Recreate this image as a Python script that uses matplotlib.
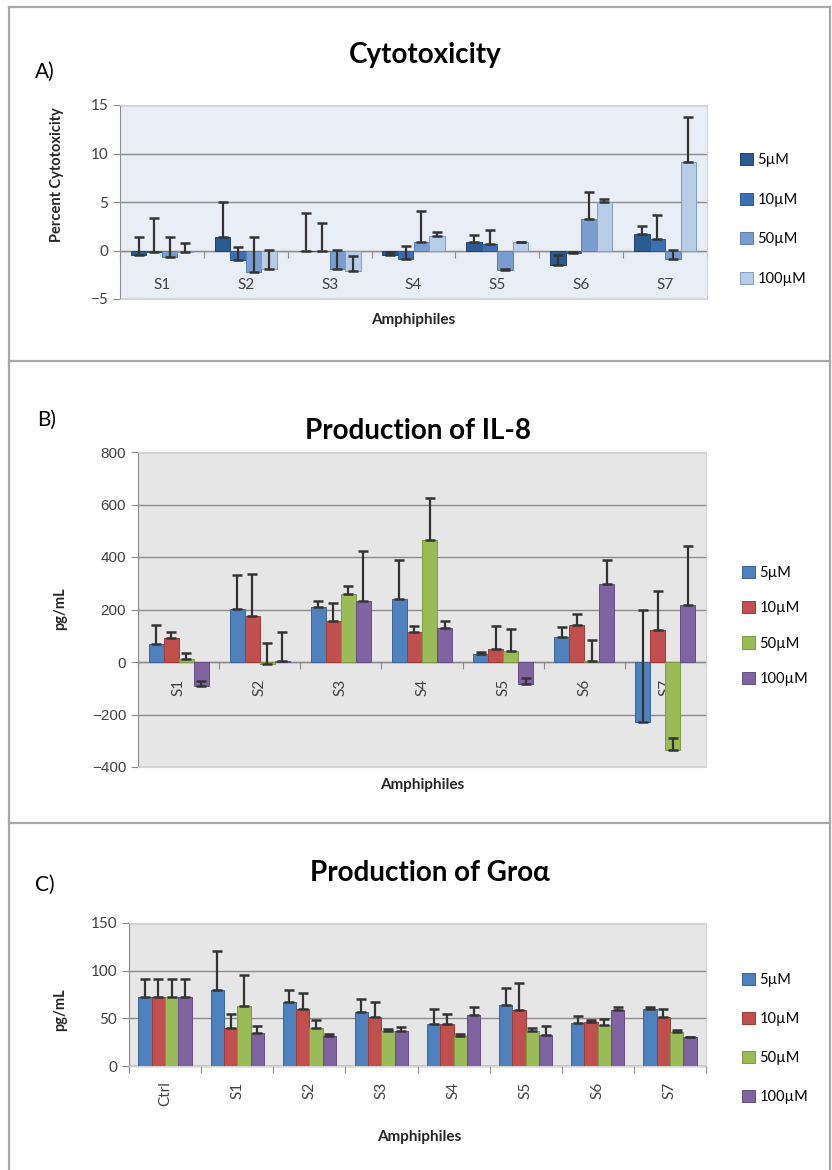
import matplotlib
matplotlib.use("Agg")
import matplotlib.pyplot as plt
from matplotlib.lines import Line2D
import numpy as np

plt.rcParams.update({"font.family": ["Lato", "DejaVu Sans"]})

W, H = 832, 1170
CONC = ["5µM", "10µM", "50µM", "100µM"]

# --- A) cytotoxicity (%)
cyto_groups = ["S1", "S2", "S3", "S4", "S5", "S6", "S7"]
cyto_5 = [-0.5, 1.35, -0.05, -0.5, 0.9, -1.5, 1.7]
cyto_10 = [-0.2, -1.0, -0.05, -0.85, 0.7, -0.3, 1.2]
cyto_50 = [-0.7, -2.2, -1.9, 0.9, -2.05, 3.2, -0.85]
cyto_100 = [-0.2, -1.9, -2.1, 1.45, 0.9, 5.0, 9.1]
cyto_5_err = [1.85, 3.7, 3.9, 0.3, 0.7, 1.0, 0.85]
cyto_10_err = [3.6, 1.35, 2.85, 1.35, 1.4, 0.15, 2.5]
cyto_50_err = [2.05, 3.55, 1.95, 3.2, 0.15, 2.85, 0.9]
cyto_100_err = [1.0, 1.95, 1.55, 0.5, 0.0, 0.35, 4.7]

# --- B) IL-8 (pg/mL)
il8_groups = ["S1", "S2", "S3", "S4", "S5", "S6", "S7"]
il8_5 = [68, 202, 210, 240, 30, 94, -229]
il8_10 = [91, 174, 155, 113, 50, 141, 123]
il8_50 = [11, -8, 260, 463, 41, 2, -334]
il8_100 = [-90, 3, 234, 130, -83, 298, 216]
il8_5_err = [74, 128, 21, 150, 8, 39, 426]
il8_10_err = [23, 162, 70, 23, 86, 42, 146]
il8_50_err = [23, 80, 31, 162, 86, 81, 44]
il8_100_err = [16, 110, 188, 25, 22, 92, 227]

# --- C) Gro-alpha (pg/mL)
gro_groups = ["Ctrl", "S1", "S2", "S3", "S4", "S5", "S6", "S7"]
gro_5 = [72, 80, 67, 57, 44, 64, 45.5, 60]
gro_10 = [72, 40, 60, 51, 44, 59, 46, 51]
gro_50 = [72, 63, 40, 37, 31.5, 37, 43, 36]
gro_100 = [72, 35, 31, 36.5, 54, 33, 59, 30]
gro_5_err = [19, 41, 13, 13, 16, 18, 6.5, 1.5]
gro_10_err = [19, 15, 17, 16, 10.5, 28, 2, 8.5]
gro_50_err = [19, 32, 8.5, 1.5, 2.5, 2.5, 6, 1.5]
gro_100_err = [19, 6.5, 3, 4.5, 8, 8.5, 3, 0.8]

BLUES = ["#2B5B91", "#3C70B3", "#7A9DD0", "#B9CCE6"]
BLUES_EDGE = ["#1F4470", "#2D5A94", "#5A7FB5", "#7F9CC8"]
OFFICE = ["#4F81BD", "#C0504D", "#9BBB59", "#8064A2"]
OFFICE_EDGE = ["#3A6597", "#9E3B38", "#7D9A44", "#644E85"]
GRID = "#8c8c8c"


def axes_px(left, top, right, bottom):
    return fig.add_axes([left / W, 1 - bottom / H, (right - left) / W, (bottom - top) / H])


def bar_panel(ax, groups, values, errors, colors, edges, ylim, yticks, face,
              tick_font, label_pad, rotate, leg_anchor, leg_spacing):
    x = np.arange(len(groups))
    total = 0.74
    w = total / len(values)
    for i, (v, e, c, ec, lab) in enumerate(zip(values, errors, colors, edges, CONC)):
        pos = x - total / 2 + w * (i + 0.5)
        ax.bar(pos, v, w, color=c, edgecolor=ec, linewidth=0.7, label=lab, zorder=3)
        ax.errorbar(pos, v, yerr=[np.zeros(len(e)), e], fmt="none", ecolor="#333333",
                    elinewidth=1.6, capsize=3.5, capthick=1.8, zorder=4)
    ax.set_xlim(-0.5, len(groups) - 0.5)
    ax.set_ylim(*ylim)
    ax.set_yticks(yticks)
    ax.set_facecolor(face)
    ax.grid(axis="y", color=GRID, lw=1)
    ax.set_axisbelow(True)
    ax.set_xticks([])
    for s in ["top", "right", "bottom"]:
        ax.spines[s].set_color("#d4d4d4")
    ax.spines["left"].set_color(GRID)
    ax.tick_params(axis="y", length=5, color=GRID, labelsize=11, labelcolor="#404040")
    for t in ax.get_yticklabels():
        t.set_family(tick_font)

    # category axis sits on the zero line
    sec = ax.secondary_xaxis(0, transform=ax.transData)
    sec.set_xticks(np.arange(len(groups) + 1) - 0.5, labels=[])
    sec.set_xticks(x, labels=groups, minor=True)
    sec.tick_params(which="major", length=5, color=GRID, direction="out")
    sec.tick_params(which="minor", length=0, pad=label_pad, labelsize=11,
                    labelcolor="#404040", labelrotation=rotate)
    sec.spines["bottom"].set_color(GRID)
    sec.spines["bottom"].set_linewidth(1)

    ax.legend(loc="center left", bbox_to_anchor=leg_anchor, frameon=False, fontsize=10.5,
              handlelength=0.9, handleheight=0.9, handletextpad=0.3, borderpad=0,
              borderaxespad=0, labelspacing=leg_spacing)


fig = plt.figure(figsize=(W / 100, H / 100), dpi=100)

# panel borders
def fline(x0, y0, x1, y1):
    fig.add_artist(Line2D([x0 / W, x1 / W], [1 - y0 / H, 1 - y1 / H], transform=fig.transFigure,
                          color="#a8a8a8", lw=1.6))

fline(9, 7, 830, 7)
fline(9, 7, 9, H)
fline(830, 7, 830, H)
fline(9, 361, 830, 361)
fline(9, 823, 830, 823)

# A
axA = axes_px(120, 105, 707, 299)
bar_panel(axA, cyto_groups, [cyto_5, cyto_10, cyto_50, cyto_100],
          [cyto_5_err, cyto_10_err, cyto_50_err, cyto_100_err], BLUES, BLUES_EDGE,
          (-5, 15), [-5, 0, 5, 10, 15], "#E9EDF6", "Lato", 20, 0, (1.056, 0.41), 1.75)
fig.text(425 / W, 1 - 55 / H, "Cytotoxicity", ha="center", va="center", fontsize=20, fontweight="bold")
fig.text(45 / W, 1 - 72 / H, "A)", ha="center", va="center", fontsize=15)
fig.text(57 / W, 1 - 175 / H, "Percent Cytotoxicity", rotation=90, ha="center", va="center",
         fontsize=10.5, fontweight="bold", color="#262626")
fig.text(413 / W, 1 - 320 / H, "Amphiphiles", ha="center", va="center", fontsize=11,
         fontweight="bold", color="#262626")

# B
axB = axes_px(138, 452, 706, 767)
bar_panel(axB, il8_groups, [il8_5, il8_10, il8_50, il8_100],
          [il8_5_err, il8_10_err, il8_50_err, il8_100_err], OFFICE, OFFICE_EDGE,
          (-400, 800), [-400, -200, 0, 200, 400, 600, 800], "#E6E6E6", "Liberation Sans",
          12, 90, (1.063, 0.448), 1.45)
fig.text(418 / W, 1 - 431 / H, "Production of IL-8", ha="center", va="center", fontsize=20,
         fontweight="bold")
fig.text(47 / W, 1 - 420 / H, "B)", ha="center", va="center", fontsize=15)
fig.text(60 / W, 1 - 609 / H, "pg/mL", rotation=90, ha="center", va="center",
         fontsize=10.5, fontweight="bold", color="#262626")
fig.text(422 / W, 1 - 785 / H, "Amphiphiles", ha="center", va="center", fontsize=11,
         fontweight="bold", color="#262626")

# C
axC = axes_px(129, 923, 706, 1066)
bar_panel(axC, gro_groups, [gro_5, gro_10, gro_50, gro_100],
          [gro_5_err, gro_10_err, gro_50_err, gro_100_err], OFFICE, OFFICE_EDGE,
          (0, 150), [0, 50, 100, 150], "#E6E6E6", "Lato", 11, 90, (1.062, 0.192), 1.7)
fig.text(430 / W, 1 - 873 / H, "Production of Groα", ha="center", va="center", fontsize=20,
         fontweight="bold")
fig.text(45 / W, 1 - 885 / H, "C)", ha="center", va="center", fontsize=15)
fig.text(60 / W, 1 - 1010 / H, "pg/mL", rotation=90, ha="center", va="center",
         fontsize=10.5, fontweight="bold", color="#262626")
fig.text(419 / W, 1 - 1137 / H, "Amphiphiles", ha="center", va="center", fontsize=11,
         fontweight="bold", color="#262626")

fig.savefig("out.png", dpi=100)
